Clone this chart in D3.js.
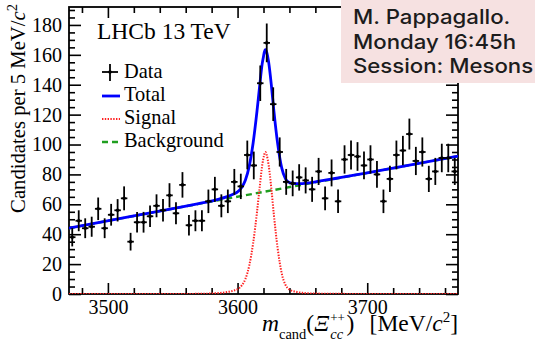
<!DOCTYPE html>
<html>
<head>
<meta charset="utf-8">
<script src="https://cdn.jsdelivr.net/npm/d3@7"></script>
<style>
  body { margin: 0; background: #fff; }
  svg { display: block; }
  .serif { font-family: "Liberation Serif", "DejaVu Serif", serif; }
</style>
</head>
<body>
<svg id="chart" width="535" height="345"></svg>
<script>
// Histogram binning (MeV/c^2)
const massLow = 3470, massHigh = 3770, binWidth = 5;

// Candidates per 5 MeV/c^2 bin
const counts = [38, 49, 44, 45, 57, 44, 53, 56, 64, 35,
                48, 48, 52, 59, 56, 66, 54, 73, 46, 49,
                49, 62, 70, 59, 62, 75, 72, 93, 86, 141,
                168, 127, 95, 75, 74, 78, 76, 70, 82, 64,
                81, 62, 90, 93, 92, 86, 90, 80, 62, 77,
                93, 96, 107, 89, 95, 77, 82, 91, 91, 82];

// Fitted signal component, sampled along the mass axis
const sigMass = [3470, 3550, 3575, 3585, 3592, 3597, 3600, 3603, 3606, 3609,
                 3612, 3615, 3617, 3619, 3620.5, 3621.5, 3622.5, 3624, 3626, 3628,
                 3631, 3634, 3637, 3640, 3645, 3650, 3660, 3680, 3700, 3770];
const sigVal  = [0, 0, 0.2, 0.6, 1.3, 2.3, 3.2, 5.5, 10, 19,
                 34, 55, 71, 86, 93, 95, 93, 86, 71, 53,
                 30, 14, 6, 3, 1.5, 0.8, 0.3, 0.1, 0, 0];

// Fitted combinatorial background component
const bkgMass = [3470, 3520, 3570, 3620, 3670, 3720, 3770];
const bkgVal  = [44, 52.2, 60.3, 68.3, 76.3, 84.2, 92.2];

// Axis ticks
const xMajor = [3500, 3600, 3700];
const xMinor = [3480, 3520, 3540, 3560, 3580, 3620, 3640, 3660, 3680, 3720, 3740, 3760];
const yMajor = [0, 20, 40, 60, 80, 100, 120, 140, 160, 180];
const yMinor = d3.range(5, 191, 5).filter(v => v % 20 !== 0);

const legendItems = ["Data", "Total", "Signal", "Background"];
const noteLines = ["M. Pappagallo.", "Monday 16:45h", "Session: Mesons"];

// ---------------------------------------------------------------
const svg = d3.select("#chart");
const L = 69, R = 458, T = 7, B = 294;

const x = d3.scaleLinear().domain([massLow, massHigh]).range([L, R]);
const y = d3.scaleLinear().domain([0, 192]).range([B, T]);

const sigAt = d3.scaleLinear().domain(sigMass).range(sigVal);
const bkgAt = d3.scaleLinear().domain(bkgMass).range(bkgVal);

svg.append("defs").append("clipPath").attr("id", "plotClip")
  .append("rect").attr("x", L).attr("y", T).attr("width", R - L).attr("height", B - T);

// Axes: ticks on all four sides, pointing inward
function styleAxis(g) {
  g.select(".domain").remove();
  g.selectAll(".tick line").attr("stroke", "#000").attr("stroke-width", 1.6);
  g.selectAll("text").attr("class", "serif").attr("font-size", 20).attr("fill", "#000")
    .attr("font-family", null);
}

svg.append("g").attr("transform", `translate(0,${B})`)
  .call(d3.axisBottom(x).tickValues(xMajor).tickSize(-11).tickPadding(6).tickFormat(d3.format("d")))
  .call(styleAxis);
svg.append("g").attr("transform", `translate(0,${B})`)
  .call(d3.axisBottom(x).tickValues(xMinor).tickSize(-6).tickFormat(""))
  .call(styleAxis);
svg.append("g").attr("transform", `translate(0,${T})`)
  .call(d3.axisTop(x).tickValues(xMajor).tickSize(-11).tickFormat(""))
  .call(styleAxis);
svg.append("g").attr("transform", `translate(0,${T})`)
  .call(d3.axisTop(x).tickValues(xMinor).tickSize(-6).tickFormat(""))
  .call(styleAxis);

svg.append("g").attr("transform", `translate(${L},0)`)
  .call(d3.axisLeft(y).tickValues(yMajor).tickSize(-12).tickPadding(7))
  .call(styleAxis);
svg.append("g").attr("transform", `translate(${L},0)`)
  .call(d3.axisLeft(y).tickValues(yMinor).tickSize(-6).tickFormat(""))
  .call(styleAxis);
svg.append("g").attr("transform", `translate(${R},0)`)
  .call(d3.axisRight(y).tickValues(yMajor).tickSize(-12).tickFormat(""))
  .call(styleAxis);
svg.append("g").attr("transform", `translate(${R},0)`)
  .call(d3.axisRight(y).tickValues(yMinor).tickSize(-6).tickFormat(""))
  .call(styleAxis);

svg.append("rect").attr("x", L).attr("y", T).attr("width", R - L).attr("height", B - T)
  .attr("fill", "none").attr("stroke", "#000").attr("stroke-width", 1.8);

// Fit components
const plot = svg.append("g").attr("clip-path", "url(#plotClip)");
const line = d3.line().x(d => x(d[0])).y(d => y(d[1])).curve(d3.curveMonotoneX);

const bkgPts = bkgMass.map((m, i) => [m, bkgVal[i]]);
const sigPts = sigMass.map((m, i) => [m, sigVal[i]]);
const totMass = Array.from(new Set(sigMass.concat(bkgMass))).sort((a, b) => a - b);
const totPts = totMass.map(m => [m, sigAt(m) + bkgAt(m)]);

plot.append("path").datum(bkgPts).attr("d", line)
  .attr("fill", "none").attr("stroke", "#1f9e1f").attr("stroke-width", 2.4)
  .attr("stroke-dasharray", "6 4");
plot.append("path").datum(sigPts).attr("d", line)
  .attr("fill", "none").attr("stroke", "#ff2020").attr("stroke-width", 2)
  .attr("stroke-dasharray", "1.4 1.4");
plot.append("path").datum(totPts).attr("d", line)
  .attr("fill", "none").attr("stroke", "#0000ff").attr("stroke-width", 2.8);

// Data points with Poisson errors
const data = counts.map((n, i) => ({ m: massLow + binWidth * (i + 0.5), n, e: Math.sqrt(n) }));
const pts = plot.append("g").selectAll("g").data(data).join("g");
pts.append("line")
  .attr("x1", d => x(d.m)).attr("x2", d => x(d.m))
  .attr("y1", d => y(d.n - d.e)).attr("y2", d => y(d.n + d.e))
  .attr("stroke", "#000").attr("stroke-width", 1.8);
pts.append("line")
  .attr("x1", d => x(d.m - binWidth / 2)).attr("x2", d => x(d.m + binWidth / 2))
  .attr("y1", d => y(d.n)).attr("y2", d => y(d.n))
  .attr("stroke", "#000").attr("stroke-width", 1.8);
pts.append("circle").attr("cx", d => x(d.m)).attr("cy", d => y(d.n)).attr("r", 1.8).attr("fill", "#000");

// Titles
svg.append("text").attr("class", "serif").attr("font-size", 23.5)
  .attr("x", 97).attr("y", 39).text("LHCb 13 TeV");

const yt = svg.append("text").attr("class", "serif").attr("font-size", 20.7)
  .attr("text-anchor", "end").attr("transform", "translate(25,4) rotate(-90)");
yt.append("tspan").text("Candidates per 5 MeV/");
yt.append("tspan").attr("font-style", "italic").text("c");
yt.append("tspan").attr("font-size", 14.5).attr("dy", -8).text("2");

const xt = svg.append("text").attr("class", "serif").attr("font-size", 23.5)
  .attr("text-anchor", "end").attr("x", 458).attr("y", 331);
xt.append("tspan").attr("font-style", "italic").text("m");
xt.append("tspan").attr("font-size", 14.5).attr("dy", 8).text("cand");
xt.append("tspan").attr("dy", -8).text("(");
xt.append("tspan").attr("font-style", "italic").text("\u039E");
xt.append("tspan").attr("font-size", 14.5).attr("font-style", "italic").attr("dy", 8).attr("dx", 1).text("cc");
xt.append("tspan").attr("font-size", 13).attr("dy", -17.5).attr("dx", -12.9).text("++");
xt.append("tspan").attr("dy", 9.5).attr("dx", 1.5).text(")");
xt.append("tspan").attr("dx", 9.5).text(" [MeV/");
xt.append("tspan").attr("font-style", "italic").text("c");
xt.append("tspan").attr("font-size", 15).attr("dy", -9).text("2");
xt.append("tspan").attr("dy", 9).text("]");

// Legend
const lg = svg.append("g");
const rowY = [72, 95, 118, 141];
legendItems.forEach((name, i) => {
  lg.append("text").attr("class", "serif").attr("font-size", 20.4)
    .attr("x", 124).attr("y", rowY[i] + 6).text(name);
});
lg.append("line").attr("x1", 102).attr("x2", 118).attr("y1", rowY[0]).attr("y2", rowY[0]).attr("stroke", "#000").attr("stroke-width", 1.8);
lg.append("line").attr("x1", 110).attr("x2", 110).attr("y1", rowY[0] - 8).attr("y2", rowY[0] + 9).attr("stroke", "#000").attr("stroke-width", 1.8);
lg.append("circle").attr("cx", 110).attr("cy", rowY[0]).attr("r", 1.8);
lg.append("line").attr("x1", 102).attr("x2", 120).attr("y1", rowY[1] + 1).attr("y2", rowY[1] + 1).attr("stroke", "#0000ff").attr("stroke-width", 2.8);
lg.append("line").attr("x1", 102).attr("x2", 120).attr("y1", rowY[2] + 1).attr("y2", rowY[2] + 1).attr("stroke", "#ff2020").attr("stroke-width", 2).attr("stroke-dasharray", "1.4 1.4");
lg.append("line").attr("x1", 102).attr("x2", 120).attr("y1", rowY[3] + 1).attr("y2", rowY[3] + 1).attr("stroke", "#1f9e1f").attr("stroke-width", 2.4).attr("stroke-dasharray", "6 4");

// Session note
svg.append("rect").attr("x", 341).attr("y", 0).attr("width", 194).attr("height", 83).attr("fill", "#f6e1e1");
noteLines.forEach((t, i) => {
  svg.append("text").attr("x", 0).attr("y", 0)
    .attr("transform", `translate(353,${24 + i * 24.5}) scale(1.11,1)`)
    .attr("font-family", "Inter, 'Open Sans', sans-serif").attr("font-weight", 500)
    .attr("font-size", 20).attr("fill", "#1c1c1c").text(t);
});
</script>
</body>
</html>
